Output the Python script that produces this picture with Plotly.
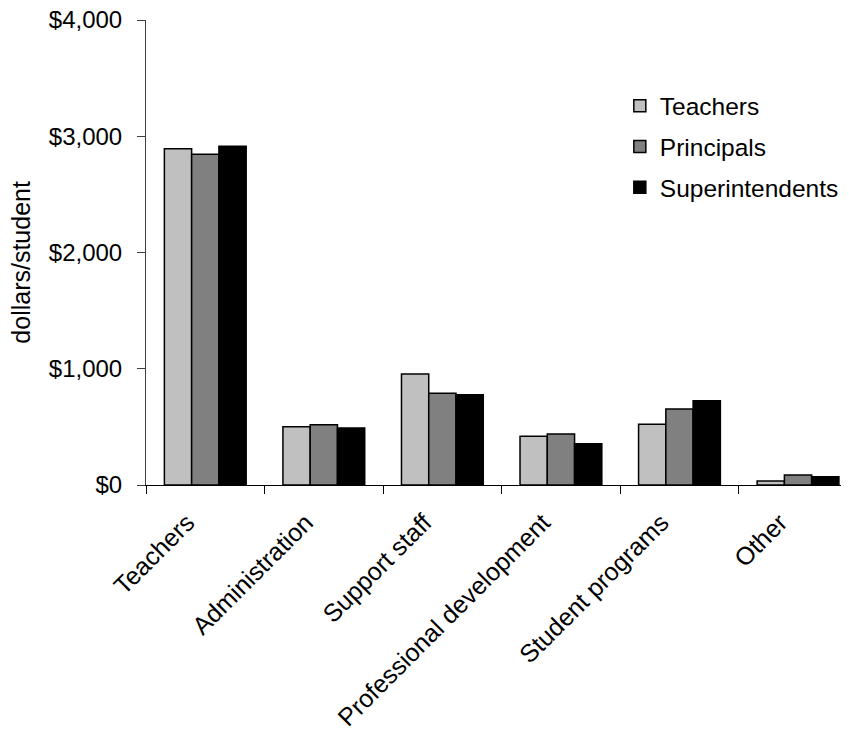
import plotly.graph_objects as go

categories = ["Teachers", "Administration", "Support staff", "Professional development", "Student programs", "Other"]
teachers = [2893, 502, 955, 419, 522, 34]
principals = [2845, 519, 789, 439, 654, 86]
superintendents = [2913, 490, 777, 355, 725, 72]
y_ticks = [0, 1000, 2000, 3000, 4000]
y_tick_labels = ["$0", "$1,000", "$2,000", "$3,000", "$4,000"]
y_title = "dollars/student"

series = [
    ("Teachers", teachers, "#C0C0C0"),
    ("Principals", principals, "#808080"),
    ("Superintendents", superintendents, "#000000"),
]

fig = go.Figure()
for i, (name, vals, col) in enumerate(series):
    fig.add_trace(go.Bar(
        x=categories, y=vals, name=name, legendgroup=f"g{i}",
        marker=dict(color=col, line=dict(color="#000000", width=1.5)),
    ))

fig.add_annotation(
    text=y_title, xref="paper", yref="paper", x=-0.178, y=0.48,
    xanchor="center", yanchor="middle", textangle=-90, showarrow=False,
    font=dict(size=25),
)

fig.update_layout(
    width=841, height=724,
    margin=dict(l=138, r=0, t=12, b=247),
    paper_bgcolor="white", plot_bgcolor="white",
    font=dict(family="Liberation Sans, Arial, sans-serif", size=24, color="black"),
    barmode="group", bargap=0.31, bargroupgap=0,
    showlegend=True,
    legend=dict(x=0.674, y=0.864, xanchor="left", yanchor="top",
                font=dict(size=24.5), tracegroupgap=6, bgcolor="rgba(0,0,0,0)"),
    xaxis=dict(
        range=[-0.5, 5.43], tickangle=-45, tickson="boundaries",
        ticks="outside", ticklen=8, tickcolor="#000000",
        showline=True, linecolor="#000000", linewidth=1,
        showgrid=False, zeroline=False, automargin=False,
        tickfont=dict(size=25), ticklabelstandoff=12, ticklabelshift=-18,
    ),
    yaxis=dict(
        range=[0, 4000], tickvals=y_ticks, ticktext=y_tick_labels,
        ticks="outside", ticklen=8, tickcolor="#404040",
        showline=True, linecolor="#404040", linewidth=1,
        showgrid=False, zeroline=False, automargin=False,
        tickfont=dict(size=24), ticklabelstandoff=10, ticklabeloverflow="allow",
    ),
)

fig.write_html("out.html")
